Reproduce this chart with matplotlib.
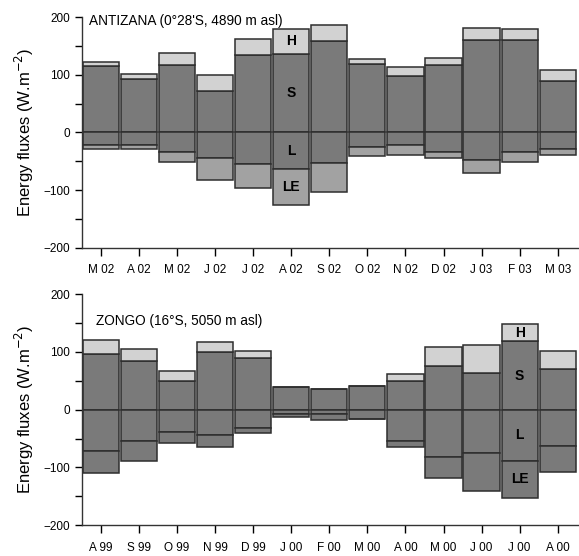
import numpy as np
import matplotlib
matplotlib.use('Agg')
import matplotlib.pyplot as plt
from matplotlib.ticker import MultipleLocator

plt.rcParams['font.family'] = ['Liberation Sans', 'DejaVu Sans']

# Antizana (Mar 2002 - Mar 2003)
ant_months = ['M 02', 'A 02', 'M 02', 'J 02', 'J 02', 'A 02', 'S 02',
              'O 02', 'N 02', 'D 02', 'J 03', 'F 03', 'M 03']
ant_S = [115, 93, 118, 72, 135, 137, 158, 119, 98, 117, 160, 160, 90]
ant_H = [7, 9, 20, 28, 27, 42, 29, 9, 16, 13, 21, 20, 18]
ant_L = [22, 22, 33, 45, 55, 63, 53, 26, 21, 33, 48, 34, 28]
ant_LE = [6, 6, 18, 37, 42, 63, 51, 15, 18, 11, 23, 18, 11]

# Zongo (Aug 1999 - Aug 2000)
zon_months = ['A 99', 'S 99', 'O 99', 'N 99', 'D 99', 'J 00', 'F 00',
              'M 00', 'A 00', 'M 00', 'J 00', 'J 00', 'A 00']
zon_S = [96, 85, 50, 99, 89, 39, 35, 41, 50, 75, 63, 118, 71]
zon_H = [24, 20, 17, 18, 12, 1, 1, 0, 12, 34, 48, 30, 31]
zon_L = [72, 54, 38, 43, 31, 8, 7, 16, 54, 82, 75, 88, 62]
zon_LE = [37, 35, 19, 22, 9, 4, 11, 1, 10, 37, 65, 65, 45]

c_S = '#7a7a7a'
c_H = '#d2d2d2'
c_L = '#7a7a7a'
edge = '#2e2e2e'


def draw_panel(ax, months, S, H, L, LE, c_LE, title, title_x, title_y, lab_idx):
    x = np.arange(len(months))
    S, H, L, LE = map(np.array, (S, H, L, LE))
    kw = dict(width=0.95, edgecolor=edge, linewidth=1.1)
    ax.bar(x, S, color=c_S, **kw)
    ax.bar(x, H, bottom=S, color=c_H, **kw)
    ax.bar(x, -L, color=c_L, **kw)
    ax.bar(x, -LE, bottom=-L, color=c_LE, **kw)

    # segment labels on the highlighted month
    i = lab_idx
    fk = dict(ha='center', va='center', fontsize=10, fontweight='bold', color='black')
    ax.text(i, S[i] + H[i] / 2, 'H', **fk)
    ax.text(i, S[i] / 2, 'S', **fk)
    ax.text(i, -L[i] / 2, 'L', **fk)
    ax.text(i, -L[i] - LE[i] / 2, 'LE', **fk)

    ax.set_xlim(-0.5, 12.53)
    ax.set_ylim(-200, 200)
    ax.set_xticks(x)
    ax.set_xticklabels(months, fontsize=8.5)
    ax.yaxis.set_major_locator(MultipleLocator(100))
    ax.yaxis.set_minor_locator(MultipleLocator(50))
    ax.tick_params(axis='y', which='major', length=5, labelsize=8.5, width=1)
    ax.tick_params(axis='y', which='minor', length=5, width=1)
    ax.tick_params(axis='x', length=6, width=1, pad=6)
    for side in ['top', 'right']:
        ax.spines[side].set_visible(False)
    for side in ['left', 'bottom']:
        ax.spines[side].set_color('#333333')
        ax.spines[side].set_linewidth(1.0)
    ax.set_ylabel('Energy fluxes (W.m$^{-2}$)', fontsize=12, labelpad=5)
    ax.text(title_x, title_y, title, fontsize=9.8,
            transform=ax.get_yaxis_transform(), ha='left', va='center')


fig = plt.figure(figsize=(5.79, 5.56), dpi=100)
ax1 = fig.add_axes([0.1416, 0.5545, 0.8564, 0.4144])
ax2 = fig.add_axes([0.1416, 0.0552, 0.8564, 0.4160])

draw_panel(ax1, ant_months, ant_S, ant_H, ant_L, ant_LE, '#a2a2a2',
           'ANTIZANA (0°28\'S, 4890 m asl)', 0.014, 194, 5)
draw_panel(ax2, zon_months, zon_S, zon_H, zon_L, zon_LE, '#7a7a7a',
           'ZONGO (16°S, 5050 m asl)', 0.028, 154, 11)

fig.savefig('out.png', dpi=100)
